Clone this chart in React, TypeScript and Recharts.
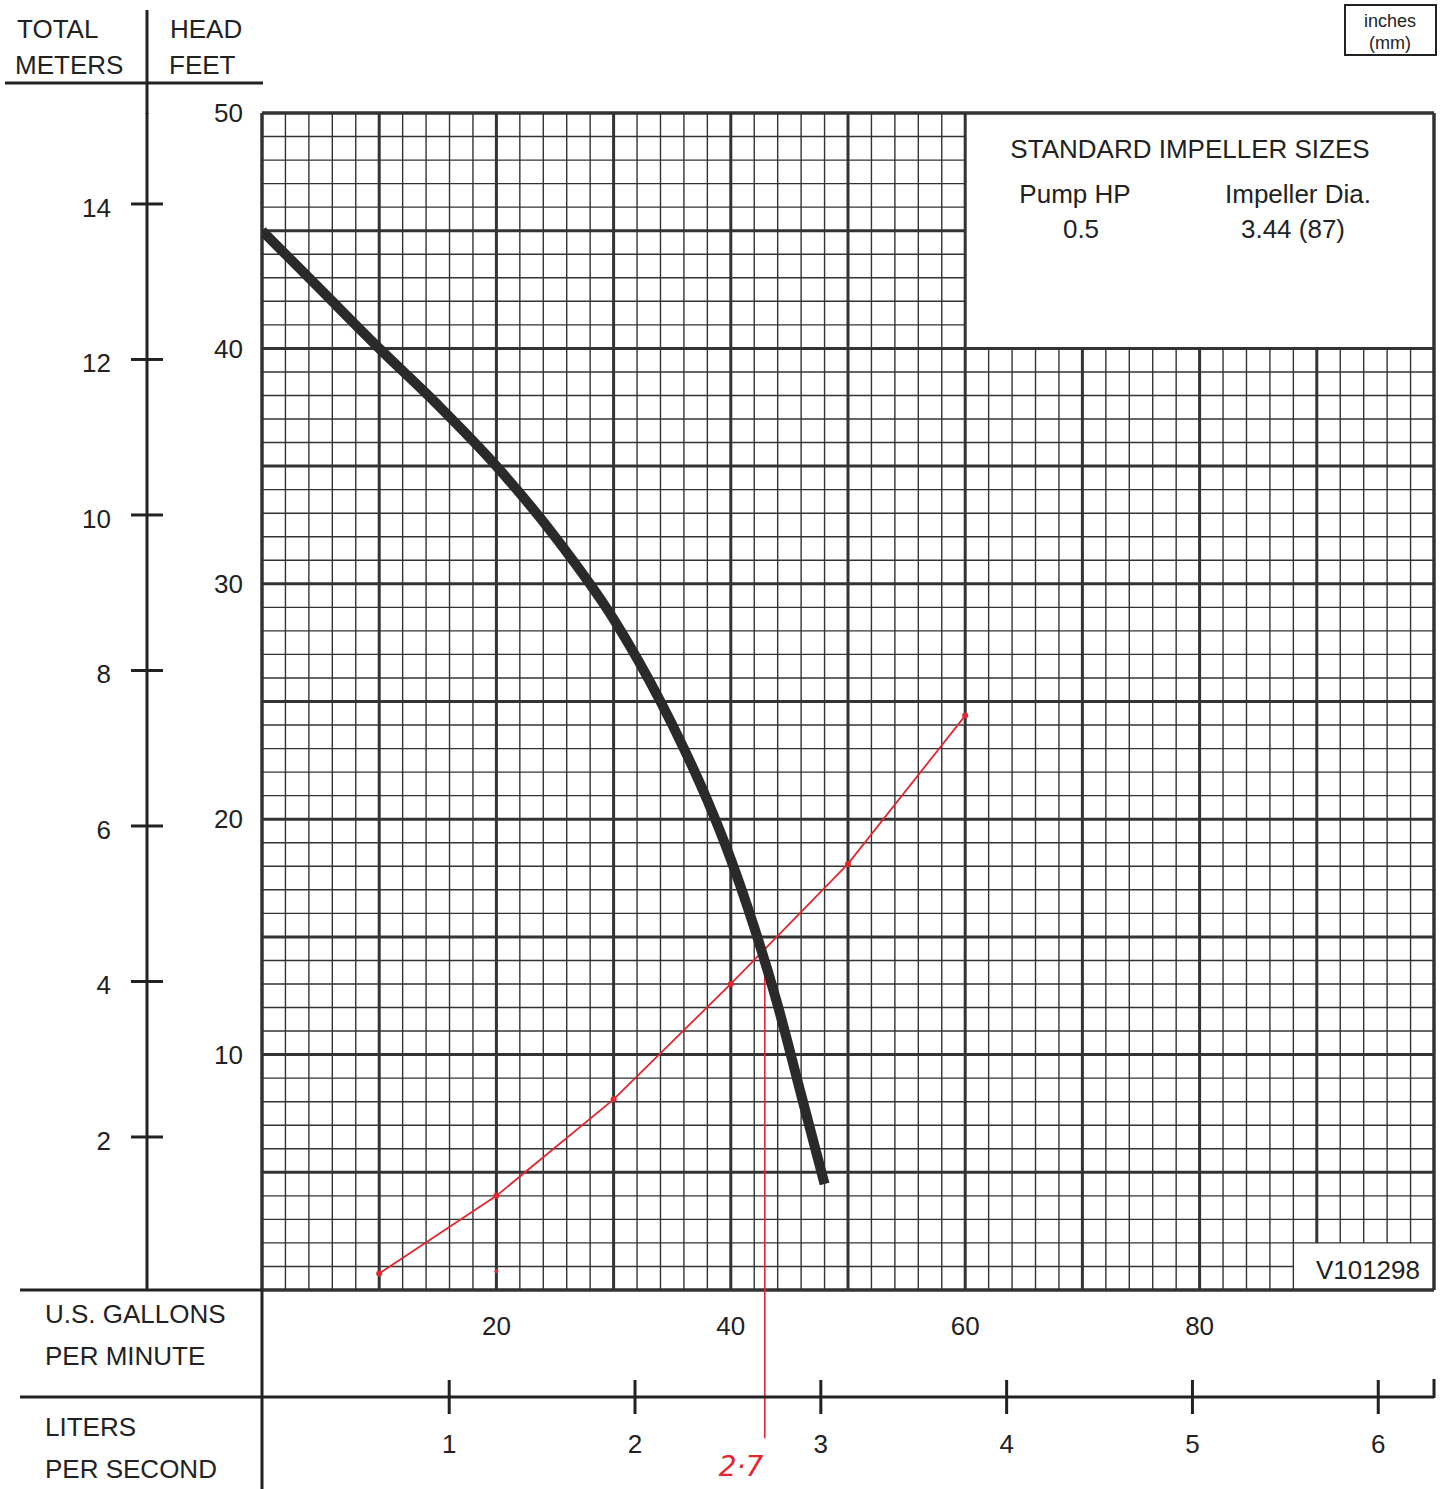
import React from 'react';
import { ComposedChart, Line, XAxis, YAxis, ReferenceLine, Scatter } from 'recharts';

// ---- data ----
const pumpCurve = [
  { gpm: 0, ft: 45 },
  { gpm: 5, ft: 42.5 },
  { gpm: 10, ft: 40 },
  { gpm: 15, ft: 37.6 },
  { gpm: 20, ft: 35 },
  { gpm: 25, ft: 32 },
  { gpm: 30, ft: 28.5 },
  { gpm: 34, ft: 25 },
  { gpm: 36, ft: 23 },
  { gpm: 38, ft: 20.8 },
  { gpm: 40, ft: 18.3 },
  { gpm: 42, ft: 15.4 },
  { gpm: 44, ft: 12.1 },
  { gpm: 46, ft: 8.3 },
  { gpm: 48, ft: 4.5 },
];

const systemCurve = [
  { gpm: 10, ft: 0.7 },
  { gpm: 20, ft: 4 },
  { gpm: 30, ft: 8.1 },
  { gpm: 40, ft: 13 },
  { gpm: 50, ft: 18.1 },
  { gpm: 60, ft: 24.4 },
];

const strayMarks = [{ gpm: 20, ft: 0.8 }];

const operatingPoint = { gpm: 42.9, ft: 14.3, bottomFt: -6.3, label: '2·7' };

const gpmTicks = [20, 40, 60, 80];
const feetTicks = [10, 20, 30, 40, 50];
const meterTicks = [2, 4, 6, 8, 10, 12, 14];
const lpsTicks = [1, 2, 3, 4, 5, 6];
const lpsRows = [{ lps: 1 }, { lps: 2 }, { lps: 3 }, { lps: 4 }, { lps: 5 }, { lps: 6 }];

const gridGpm = [
  0, 2, 4, 6, 8, 10, 12, 14, 16, 18, 20, 22, 24, 26, 28, 30, 32, 34, 36, 38, 40,
  42, 44, 46, 48, 50, 52, 54, 56, 58, 60, 62, 64, 66, 68, 70, 72, 74, 76, 78, 80,
  82, 84, 86, 88, 90, 92, 94, 96, 98, 100,
];
const gridFeet = [
  0, 1, 2, 3, 4, 5, 6, 7, 8, 9, 10, 11, 12, 13, 14, 15, 16, 17, 18, 19, 20,
  21, 22, 23, 24, 25, 26, 27, 28, 29, 30, 31, 32, 33, 34, 35, 36, 37, 38, 39, 40,
  41, 42, 43, 44, 45, 46, 47, 48, 49, 50,
];

const gpmDomain = [0, 100];
const feetDomain = [0, 50];
// the printed metre / litre scales sit slightly off the feet / gpm scales
const meterDomain = [0.032, 15.17];
const lpsDomain = [-0.0075, 6.3];

// boxes cut out of the grid (lower-left corner in gpm / ft)
const legendBox = { gpm: 60, ft: 40 };
const codeBox = { gpm: 88, ft: 2 };

const legendTitle = 'STANDARD IMPELLER SIZES';
const legendHeaders = ['Pump HP', 'Impeller Dia.'];
const legendValues = ['0.5', '3.44 (87)'];
const chartCode = 'V101298';

const FONT = '"Liberation Sans", Arial, Helvetica, sans-serif';
const INK = '#222';
const GRID = '#333';
const RED = '#e3262f';

const MeterTick = (props: any) => {
  const { x, y, payload } = props;
  return (
    <g>
      <line x1={x + 20} x2={x + 52} y1={y} y2={y} stroke={INK} strokeWidth={3} />
      <text x={x} y={y + 13} textAnchor="end" fontSize={26} fontFamily={FONT} fill={INK}>
        {payload.value}
      </text>
    </g>
  );
};

const LpsTick = (props: any) => {
  const { x, y, payload } = props;
  return (
    <g>
      <line x1={x} x2={x} y1={y - 34} y2={y} stroke={INK} strokeWidth={3} />
      <text x={x} y={y + 39} textAnchor="middle" fontSize={26} fontFamily={FONT} fill={INK}>
        {payload.value}
      </text>
    </g>
  );
};

export default function App() {
  const verticalGrid = gridGpm.map((v) => {
    const y0 = v > codeBox.gpm && v < 100 ? codeBox.ft : 0;
    const y1 = v > legendBox.gpm && v < 100 ? legendBox.ft : 50;
    const major = v % 10 === 0;
    const border = v === 0 || v === 100;
    return (
      <ReferenceLine
        key={'v' + v}
        segment={[{ x: v, y: y0 }, { x: v, y: y1 }]}
        stroke={GRID}
        strokeWidth={border ? 3.5 : major ? 3 : 1.4}
        ifOverflow="visible"
      />
    );
  });
  const horizontalGrid = gridFeet.map((h) => {
    const x1 =
      h > legendBox.ft && h < 50 ? legendBox.gpm : h > 0 && h < codeBox.ft ? codeBox.gpm : 100;
    const major = h % 5 === 0;
    const border = h === 0 || h === 50;
    return (
      <ReferenceLine
        key={'h' + h}
        segment={[{ x: 0, y: h }, { x: x1, y: h }]}
        stroke={GRID}
        strokeWidth={border ? 3.5 : major ? 3 : 1.4}
        ifOverflow="visible"
      />
    );
  });

  const textStyle = { fontFamily: FONT, fontSize: 26, fill: INK } as const;

  return (
    <div style={{ position: 'absolute', left: 0, top: 0, width: 1444, height: 1489, background: '#fff' }}>
      <ComposedChart
        width={1444}
        height={1489}
        data={lpsRows}
        margin={{ top: 113, right: 10, bottom: 0, left: 0 }}
      >
        <XAxis
          dataKey="gpm"
          type="number"
          domain={gpmDomain}
          allowDataOverflow
          ticks={gpmTicks}
          interval={0}
          height={107}
          axisLine={false}
          tickLine={false}
          tickSize={0}
          tickMargin={27}
          tick={{ fontSize: 26, fontFamily: FONT, fill: INK }}
        />
        <XAxis
          xAxisId="lps"
          dataKey="lps"
          type="number"
          domain={lpsDomain}
          allowDataOverflow
          ticks={lpsTicks}
          interval={0}
          height={92}
          axisLine={{ stroke: INK, strokeWidth: 3 }}
          tickLine={false}
          tickSize={17}
          tickMargin={0}
          tick={LpsTick}
        />
        <YAxis
          type="number"
          domain={feetDomain}
          allowDataOverflow
          ticks={feetTicks}
          interval={0}
          width={115}
          axisLine={false}
          tickLine={false}
          tickSize={0}
          tickMargin={19}
          tick={{ fontSize: 26, fontFamily: FONT, fill: INK }}
        />
        <YAxis
          yAxisId="m"
          type="number"
          domain={meterDomain}
          allowDataOverflow
          ticks={meterTicks}
          interval={0}
          width={147}
          axisLine={{ stroke: INK, strokeWidth: 3 }}
          tickLine={false}
          tickSize={16}
          tickMargin={20}
          tick={MeterTick}
        />

        {verticalGrid}
        {horizontalGrid}

        <Line
          data={systemCurve}
          dataKey="ft"
          type="linear"
          stroke={RED}
          strokeWidth={1.8}
          dot={{ r: 3, fill: RED, stroke: 'none' }}
          isAnimationActive={false}
        />
        <Scatter
          data={strayMarks}
          dataKey="ft"
          fill={RED}
          shape={(p: any) => <circle cx={p.cx} cy={p.cy} r={2} fill={RED} />}
          isAnimationActive={false}
        />
        <ReferenceLine
          segment={[
            { x: operatingPoint.gpm, y: operatingPoint.ft },
            { x: operatingPoint.gpm, y: operatingPoint.bottomFt },
          ]}
          stroke={RED}
          strokeWidth={1.6}
          ifOverflow="visible"
        />
        <Line
          data={pumpCurve}
          dataKey="ft"
          type="monotone"
          stroke="#2a2a2a"
          strokeWidth={10}
          dot={false}
          isAnimationActive={false}
        />
      </ComposedChart>

      <svg
        width={1444}
        height={1489}
        style={{ position: 'absolute', left: 0, top: 0, pointerEvents: 'none' }}
      >
        {/* header frame */}
        <line x1={147} x2={147} y1={10} y2={114} stroke={INK} strokeWidth={3} />
        <line x1={5} x2={263} y1={83} y2={83} stroke={INK} strokeWidth={3} />
        <text x={17} y={38} {...textStyle}>TOTAL</text>
        <text x={15} y={74} {...textStyle}>METERS</text>
        <text x={170} y={38} {...textStyle}>HEAD</text>
        <text x={169} y={74} {...textStyle}>FEET</text>

        {/* bottom frame */}
        <line x1={20} x2={262} y1={1290} y2={1290} stroke={INK} strokeWidth={3} />
        <line x1={262} x2={262} y1={1290} y2={1489} stroke={INK} strokeWidth={3} />
        <line x1={20} x2={263} y1={1397} y2={1397} stroke={INK} strokeWidth={3} />
        <line x1={1434} x2={1434} y1={1379} y2={1398} stroke={INK} strokeWidth={3} />
        <text x={45} y={1323} {...textStyle}>U.S. GALLONS</text>
        <text x={45} y={1365} {...textStyle}>PER MINUTE</text>
        <text x={45} y={1436} {...textStyle}>LITERS</text>
        <text x={45} y={1478} {...textStyle}>PER SECOND</text>

        {/* units box */}
        <rect x={1345} y={5} width={91} height={50} fill="none" stroke={INK} strokeWidth={2} />
        <text x={1390} y={27} textAnchor="middle" fontFamily={FONT} fontSize={18} fill={INK}>inches</text>
        <text x={1390} y={49} textAnchor="middle" fontFamily={FONT} fontSize={18} fill={INK}>(mm)</text>

        {/* legend box texts */}
        <text x={1190} y={158} textAnchor="middle" {...textStyle}>{legendTitle}</text>
        <text x={1075} y={203} textAnchor="middle" {...textStyle}>{legendHeaders[0]}</text>
        <text x={1298} y={203} textAnchor="middle" {...textStyle}>{legendHeaders[1]}</text>
        <text x={1081} y={238} textAnchor="middle" {...textStyle}>{legendValues[0]}</text>
        <text x={1293} y={238} textAnchor="middle" {...textStyle}>{legendValues[1]}</text>

        <text x={1420} y={1279} textAnchor="end" {...textStyle}>{chartCode}</text>

        <text
          x={741}
          y={1476}
          textAnchor="middle"
          fontFamily='"DejaVu Sans", sans-serif'
          fontStyle="italic"
          fontSize={28}
          fill={RED}
        >
          {operatingPoint.label}
        </text>
      </svg>
    </div>
  );
}
